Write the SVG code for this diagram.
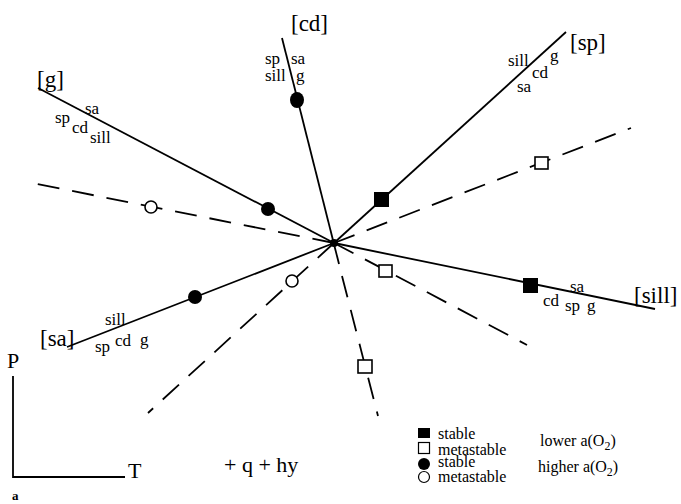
<svg xmlns="http://www.w3.org/2000/svg" width="681" height="504" viewBox="0 0 681 504">
<style>
text{font-family:"Liberation Serif","Times New Roman",serif;fill:#000}
.big{font-size:23px}
.ax{font-size:22px}
.sm{font-size:17px}
.leg{font-size:16px}
.sub{font-size:12px}
.solid{stroke:#000;stroke-width:1.8;fill:none}
.dash{stroke:#000;stroke-width:1.8;fill:none;stroke-dasharray:22 13}
.fs{fill:#000}
.os{fill:#fff;stroke:#000;stroke-width:1.6}
</style>
<rect width="681" height="504" fill="#fff"/>
<g id="connectors">
<line class="solid" x1="38" y1="88" x2="334" y2="243"/>
<line class="solid" x1="282" y1="38" x2="339" y2="264"/>
<line class="solid" x1="566" y1="32" x2="334" y2="243"/>
<line class="solid" x1="655" y1="309" x2="334" y2="243"/>
<line class="solid" x1="67" y1="347" x2="334" y2="243"/>
<line class="dash" x1="334" y1="243" x2="32" y2="183"/>
<line class="dash" x1="334" y1="243" x2="631" y2="128"/>
<line class="dash" x1="334" y1="243" x2="148" y2="413"/>
<line class="dash" x1="334" y1="243" x2="527" y2="345"/>
<line class="dash" x1="342" y1="276" x2="378" y2="416"/>
</g>
<g id="center"><circle cx="334" cy="243" r="4" class="fs"/></g>
<g id="g-label">
<text class="big" x="37" y="87">[g]</text>
<text class="sm" x="85" y="114">sa</text>
<text class="sm" x="55" y="123">sp</text>
<text class="sm" x="72" y="133">cd</text>
<text class="sm" x="90" y="143">sill</text>
</g>
<g id="cd-label">
<text class="big" x="291" y="31">[cd]</text>
<text class="sm" x="265" y="64">sp</text>
<text class="sm" x="291" y="64">sa</text>
<text class="sm" x="265" y="81">sill</text>
<text class="sm" x="296" y="81">g</text>
</g>
<g id="sp-label">
<text class="big" x="570" y="50">[sp]</text>
<text class="sm" x="508" y="66">sill</text>
<text class="sm" x="550" y="61">g</text>
<text class="sm" x="532" y="78">cd</text>
<text class="sm" x="517" y="92">sa</text>
</g>
<g id="sill-label">
<text class="big" x="634" y="303">[sill]</text>
<text class="sm" x="570" y="292">sa</text>
<text class="sm" x="543" y="306">cd</text>
<text class="sm" x="565" y="311">sp</text>
<text class="sm" x="587" y="311">g</text>
</g>
<g id="sa-label">
<text class="big" x="40" y="346">[sa]</text>
<text class="sm" x="105" y="325">sill</text>
<text class="sm" x="95" y="352">sp</text>
<text class="sm" x="115" y="346">cd</text>
<text class="sm" x="140" y="345">g</text>
</g>
<g id="markers">
<ellipse cx="297" cy="100" rx="7" ry="8" class="fs"/>
<circle cx="268" cy="209" r="7" class="fs"/>
<circle cx="195" cy="297" r="7" class="fs"/>
<rect x="374" y="192" width="15" height="15" class="fs"/>
<rect x="523" y="278" width="15" height="15" class="fs"/>
<circle cx="151" cy="207" r="6" class="os"/>
<circle cx="292" cy="281" r="6" class="os"/>
<rect x="535" y="157" width="13" height="12" class="os"/>
<rect x="379" y="265" width="13" height="12" class="os"/>
<rect x="358" y="360" width="14" height="13" class="os"/>
</g>
<g id="axes">
<path class="solid" d="M13,376 V477 H125"/>
<text class="ax" x="7" y="368">P</text>
<text class="ax" x="128" y="478">T</text>
<text class="ax" x="224" y="472">+ q + hy</text>
<text x="12" y="500" style="font-size:13px;font-weight:bold">a</text>
</g>
<g id="legend">
<rect x="418" y="428" width="12" height="10" class="fs"/>
<text class="leg" x="438" y="439">stable</text>
<rect x="418.5" y="442.5" width="11" height="11" class="os" style="stroke-width:1.2"/>
<text class="leg" x="438" y="455">metastable</text>
<text class="leg" x="540" y="446">lower a(O<tspan class="sub" dy="4">2</tspan><tspan dy="-4">)</tspan></text>
<circle cx="424" cy="464" r="6" class="fs"/>
<text class="leg" x="438" y="467">stable</text>
<circle cx="424" cy="477" r="5.5" class="os" style="stroke-width:1.2"/>
<text class="leg" x="438" y="482">metastable</text>
<text class="leg" x="538" y="472">higher a(O<tspan class="sub" dy="4">2</tspan><tspan dy="-4">)</tspan></text>
</g>
</svg>
